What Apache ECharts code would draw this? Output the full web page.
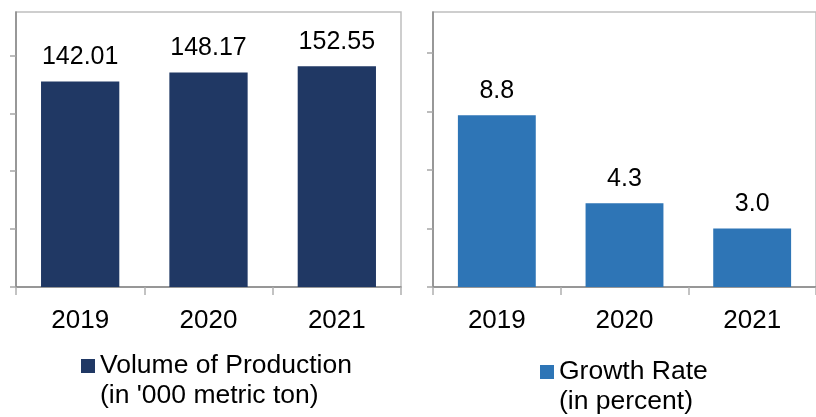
<!DOCTYPE html>
<html>
<head>
<meta charset="utf-8">
<script src="https://cdn.jsdelivr.net/npm/echarts@6/dist/echarts.min.js"></script>
<style>
html,body{margin:0;padding:0;background:#fff;}
#chart{width:816px;height:417px;}
</style>
</head>
<body>
<div id="chart"></div>
<script>
const categories = ['2019', '2020', '2021'];
const volume = [142.01, 148.17, 152.55];
const growth = [8.8, 4.3, 3.0];
const volumeTicks = [0, 40, 80, 120, 160];
const growthTicks = [0, 3, 6, 9, 12];
const volumeName = 'Volume of Production';
const volumeUnit = "(in '000 metric ton)";
const growthName = 'Growth Rate';
const growthUnit = '(in percent)';

const FONT = '"Liberation Sans", Arial, sans-serif';
const chart = echarts.init(document.getElementById('chart'), null, {renderer: 'canvas'});

function xAxis(gi) {
  return {
    type: 'category', gridIndex: gi, data: categories,
    axisLine: {lineStyle: {color: '#868686', width: 1.5}},
    axisTick: {show: true, length: 8, lineStyle: {color: '#b0b0b0', width: 1.5}},
    axisLabel: {color: '#000', fontSize: 26, fontFamily: FONT, margin: 21}
  };
}
function yAxis(gi, max, ticks) {
  return {
    type: 'value', gridIndex: gi, min: 0, max: max,
    axisLine: {show: true, lineStyle: {color: '#868686', width: 1.5}},
    axisTick: {show: true, length: 6, customValues: ticks, lineStyle: {color: '#a6a6a6', width: 1.5}},
    axisLabel: {show: false},
    splitLine: {show: false}
  };
}
const legendText = {
  color: '#000', fontSize: 26.5, fontFamily: FONT, lineHeight: 30
};

chart.setOption({
  animation: false,
  grid: [
    {left: 16, top: 12, width: 385, height: 275, show: true, borderColor: '#bfbfbf', borderWidth: 1.5, backgroundColor: 'transparent'},
    {left: 433, top: 12, width: 393, height: 275, show: true, borderColor: '#bfbfbf', borderWidth: 1.5, backgroundColor: 'transparent'}
  ],
  xAxis: [xAxis(0), xAxis(1)],
  yAxis: [yAxis(0, 190, volumeTicks), yAxis(1, 14.1, growthTicks)],
  legend: [
    {data: [volumeName], left: 81, top: 321, padding: 0, icon: 'rect', itemWidth: 14, itemHeight: 14,
     textStyle: legendText, formatter: () => ' \n' + volumeName + '\n' + volumeUnit, selectedMode: false},
    {data: [growthName], left: 540, top: 327, padding: 0, icon: 'rect', itemWidth: 14, itemHeight: 14,
     textStyle: legendText, formatter: () => ' \n' + growthName + '\n' + growthUnit, selectedMode: false}
  ],
  series: [
    {name: volumeName, type: 'bar', xAxisIndex: 0, yAxisIndex: 0, data: volume,
     barCategoryGap: '39%', itemStyle: {color: '#203864'},
     label: {show: true, position: 'top', distance: 12, color: '#000', fontSize: 25, fontFamily: FONT,
             formatter: p => p.value.toFixed(2)}},
    {name: growthName, type: 'bar', xAxisIndex: 1, yAxisIndex: 1, data: growth,
     barCategoryGap: '39%', itemStyle: {color: '#2e75b6'},
     label: {show: true, position: 'top', distance: 12, color: '#000', fontSize: 25, fontFamily: FONT,
             formatter: p => p.value.toFixed(1)}}
  ]
});
</script>
</body>
</html>
